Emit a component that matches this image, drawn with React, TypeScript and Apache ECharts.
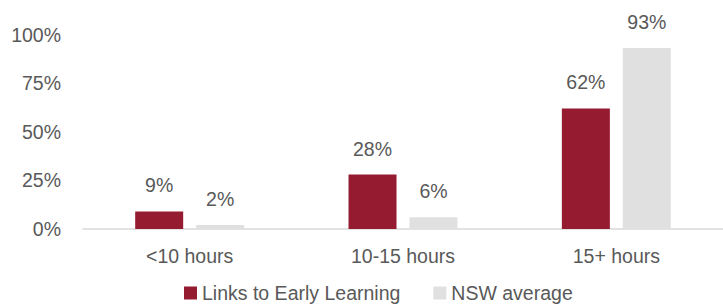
import React, { useEffect, useRef } from "react";
import * as echarts from "echarts";

const categories = ["<10 hours", "10-15 hours", "15+ hours"];
const linksValues = [9, 28, 62];
const nswValues = [2, 6, 93];
const yTicks = [0, 25, 50, 75, 100];

export default function App() {
  const ref = useRef<HTMLDivElement>(null);
  useEffect(() => {
    if (!ref.current) return;
    const chart = echarts.init(ref.current, undefined, { renderer: "svg" });
    const font = "'Liberation Sans', Arial, sans-serif";
    const fs = 19.5;
    const labelStyle = {
      show: true,
      position: "top" as const,
      distance: 16,
      color: "#595959",
      fontSize: fs,
      fontFamily: font,
      formatter: (p: any) => p.value + "%",
    };
    chart.setOption({
      animation: false,
      grid: { left: 83, right: 0, top: 34.5, bottom: 75, containLabel: false },
      legend: {
        bottom: 1,
        left: 184,
        padding: 0,
        itemWidth: 13,
        itemHeight: 13,
        itemGap: 33,
        icon: "rect",
        textStyle: { color: "#595959", fontSize: fs, fontFamily: font },
        data: ["Links to Early Learning", "NSW average"],
      },
      xAxis: {
        type: "category",
        data: categories,
        axisLine: { lineStyle: { color: "#d9d9d9", width: 1.5 } },
        axisTick: { show: false },
        axisLabel: { color: "#595959", fontSize: fs, fontFamily: font, margin: 17 },
      },
      yAxis: {
        type: "value",
        min: yTicks[0],
        max: yTicks[yTicks.length - 1],
        interval: 25,
        splitLine: { show: false },
        axisLine: { show: false },
        axisTick: { show: false },
        axisLabel: {
          color: "#595959",
          fontSize: fs,
          fontFamily: font,
          margin: 22,
          formatter: (v: number) => v + "%",
        },
      },
      series: [
        {
          name: "Links to Early Learning",
          type: "bar",
          data: linksValues,
          barWidth: 48,
          barGap: "27%",
          itemStyle: { color: "#951B31" },
          label: labelStyle,
        },
        {
          name: "NSW average",
          type: "bar",
          data: nswValues,
          barWidth: 48,
          itemStyle: { color: "#E0E0E0" },
          label: labelStyle,
        },
      ],
    });
    return () => chart.dispose();
  }, []);
  return <div ref={ref} style={{ width: 723, height: 304, position: "absolute", left: 0, top: 0 }} />;
}
